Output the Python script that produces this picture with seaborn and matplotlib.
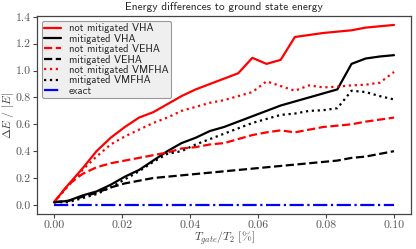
import numpy as np
import pandas as pd
import matplotlib
matplotlib.use("Agg")
import matplotlib.pyplot as plt
import seaborn as sns

# ---- data ----
t_ratio = [0.1 * i / 24 for i in range(25)]

not_mit_vha = [0.02, 0.15, 0.27, 0.40, 0.50, 0.58, 0.65, 0.69, 0.75, 0.81, 0.86, 0.90, 0.94,
               0.98, 1.095, 1.05, 1.08, 1.25, 1.265, 1.28, 1.29, 1.30, 1.32, 1.33, 1.34]
mit_vha = [0.02, 0.03, 0.07, 0.10, 0.15, 0.21, 0.26, 0.33, 0.40, 0.46, 0.50, 0.55, 0.58,
           0.62, 0.66, 0.70, 0.74, 0.77, 0.80, 0.83, 0.86, 1.05, 1.09, 1.105, 1.115]
not_mit_veha = [0.02, 0.15, 0.23, 0.28, 0.31, 0.33, 0.35, 0.37, 0.39, 0.42, 0.43, 0.45, 0.46,
                0.49, 0.52, 0.54, 0.555, 0.54, 0.56, 0.58, 0.59, 0.60, 0.62, 0.635, 0.65]
mit_veha = [0.02, 0.03, 0.06, 0.09, 0.13, 0.16, 0.18, 0.20, 0.21, 0.22, 0.23, 0.24, 0.25,
            0.26, 0.27, 0.28, 0.29, 0.30, 0.31, 0.32, 0.33, 0.35, 0.36, 0.38, 0.40]
not_mit_vmfha = [0.02, 0.14, 0.26, 0.36, 0.45, 0.51, 0.56, 0.61, 0.65, 0.70, 0.73, 0.76, 0.78,
                 0.81, 0.84, 0.92, 0.885, 0.85, 0.89, 0.875, 0.88, 0.89, 0.895, 0.91, 0.99]
mit_vmfha = [0.02, 0.02, 0.05, 0.08, 0.13, 0.19, 0.25, 0.32, 0.38, 0.40, 0.45, 0.49, 0.53,
             0.57, 0.61, 0.64, 0.67, 0.68, 0.70, 0.705, 0.72, 0.85, 0.84, 0.81, 0.785]
exact = [0.0] * 25

series_names = ["not mitigated VHA", "mitigated VHA", "not mitigated VEHA",
                "mitigated VEHA", "not mitigated VMFHA", "mitigated VMFHA", "exact"]
series_vals = [not_mit_vha, mit_vha, not_mit_veha, mit_veha, not_mit_vmfha, mit_vmfha, exact]
colors = ["red", "black", "red", "black", "red", "black", "blue"]
styles = ["-", "-", "--", "--", ":", ":", "-."]

title = "Energy differences to ground state energy"
xlabel = r"$T_{gate}/T_2\ [\%]$"
ylabel = r"$\Delta E\ /\ |E|$"

# ---- style ----
sns.set_style("ticks")
plt.rcParams["mathtext.fontset"] = "cm"
plt.rcParams["font.family"] = ["cmr10", "DejaVu Serif"]
plt.rcParams["axes.formatter.use_mathtext"] = True
plt.rcParams["axes.unicode_minus"] = False

fig = plt.figure(figsize=(4.16, 2.49), dpi=100)
ax = fig.add_axes([0.089, 0.141, 0.899, 0.795])

for name, vals, c, ls in zip(series_names, series_vals, colors, styles):
    df = pd.DataFrame({"x": t_ratio, "y": vals})
    sns.lineplot(data=df, x="x", y="y", color=c, linestyle=ls, linewidth=1.6,
                 label=name, ax=ax)

ax.set_xticks([0.0, 0.02, 0.04, 0.06, 0.08, 0.10])
ax.set_xticklabels(["0.00", "0.02", "0.04", "0.06", "0.08", "0.10"])
ax.set_yticks([0.0, 0.2, 0.4, 0.6, 0.8, 1.0, 1.2, 1.4])
ax.set_yticklabels(["0.0", "0.2", "0.4", "0.6", "0.8", "1.0", "1.2", "1.4"])
ax.tick_params(labelsize=8.5, colors="#444444", length=3, width=0.8, pad=1.5)
ax.tick_params(labelcolor="#555555")
for s in ax.spines.values():
    s.set_color("#444444")
    s.set_linewidth(0.9)

ax.set_xlabel(xlabel, fontsize=8.5, color="#444444", labelpad=0)
ax.set_ylabel(ylabel, fontsize=8.5, color="#444444", labelpad=0)
ax.set_title(title, fontsize=8.2, family=["cmss10", "DejaVu Sans"], pad=4)

leg = ax.legend(loc="upper left", borderaxespad=0.45,
                prop={"family": ["cmss10", "DejaVu Sans"], "size": 7.6},
                facecolor="#efefef", edgecolor="#999999", framealpha=1,
                fancybox=True, handlelength=1.6, handletextpad=0.7,
                labelspacing=0.04, borderpad=0.25)
leg.get_frame().set_linewidth(0.8)

fig.savefig("out.png", dpi=100)
